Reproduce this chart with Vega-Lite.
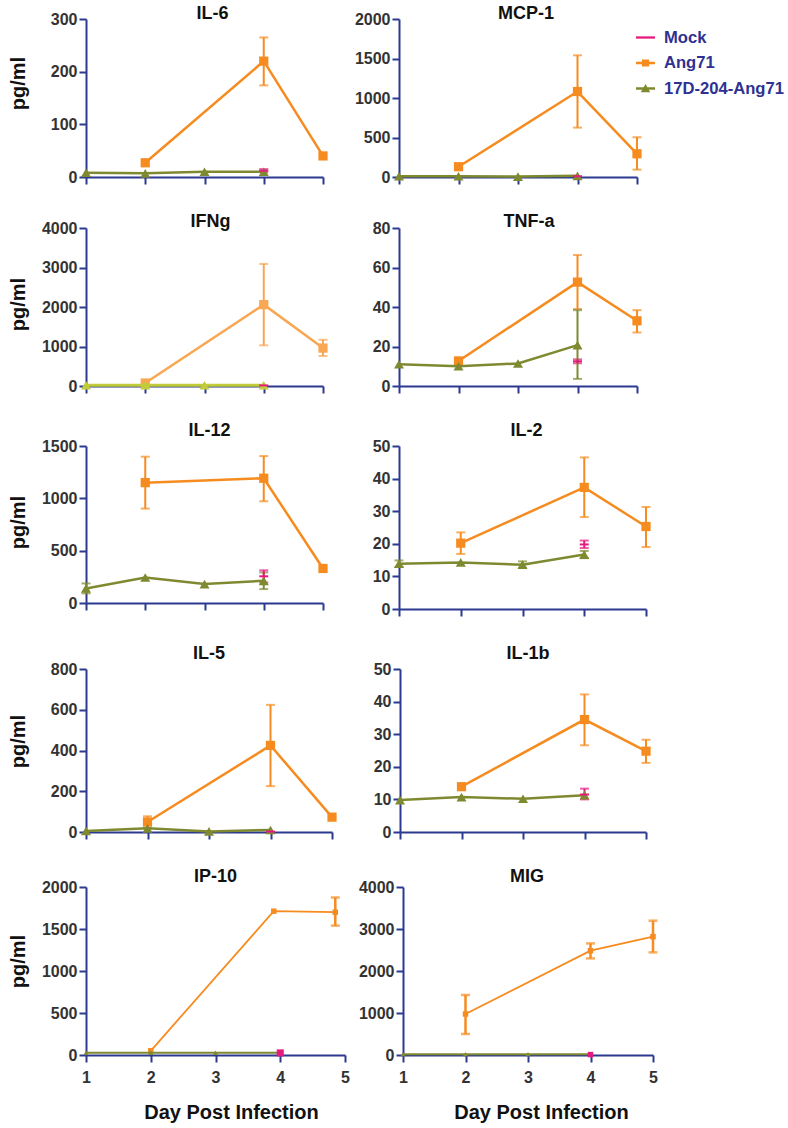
{
  "$schema": "https://vega.github.io/schema/vega-lite/v6.json",
  "padding": {"left": 8, "top": 5, "right": 2, "bottom": 2},
  "config": {
    "font": "Liberation Sans",
    "view": {"stroke": null},
    "axis": {"domainColor": "#2b3990", "domainWidth": 2, "tickColor": "#2b3990", "tickWidth": 2, "tickSize": 7, "grid": false, "labelFont": "Liberation Sans", "labelFontWeight": "bold", "labelFontSize": 16, "labelColor": "#333333", "labelFlush": false, "labelOverlap": false, "titleFont": "Liberation Sans", "titleFontWeight": "bold", "titleFontSize": 20, "titleColor": "#111111"},
    "axisX": {"labelPadding": 7, "titleBaseline": "alphabetic", "titleY": 63},
    "axisY": {"labelPadding": 2, "titleBaseline": "alphabetic", "titleX": -62, "titleAngle": -90},
    "title": {"font": "Liberation Sans", "fontSize": 18, "fontWeight": "bold", "color": "#111111", "frame": "group", "anchor": "middle", "baseline": "alphabetic"}
  },
  "datasets": {
    "IL-6": [
      {"series": "17D-204-Ang71", "day": 1, "value": 8},
      {"series": "17D-204-Ang71", "day": 2, "value": 7},
      {"series": "17D-204-Ang71", "day": 3, "value": 10},
      {"series": "17D-204-Ang71", "day": 4, "value": 10},
      {"series": "Ang71", "day": 2, "value": 27},
      {"series": "Ang71", "day": 4, "value": 220, "lo": 174, "hi": 265},
      {"series": "Ang71", "day": 5, "value": 40},
      {"series": "Mock", "day": 4, "value": 12, "lo": 9, "hi": 15}
    ],
    "MCP-1": [
      {"series": "17D-204-Ang71", "day": 1, "value": 10},
      {"series": "17D-204-Ang71", "day": 2, "value": 10},
      {"series": "17D-204-Ang71", "day": 3, "value": 5},
      {"series": "17D-204-Ang71", "day": 4, "value": 15},
      {"series": "Ang71", "day": 2, "value": 130, "lo": 95, "hi": 170},
      {"series": "Ang71", "day": 4, "value": 1082, "lo": 625, "hi": 1540},
      {"series": "Ang71", "day": 5, "value": 294, "lo": 93, "hi": 503},
      {"series": "Mock", "day": 4, "value": 10}
    ],
    "IFNg": [
      {"series": "17D-204-Ang71", "day": 1, "value": 20},
      {"series": "17D-204-Ang71", "day": 2, "value": 20},
      {"series": "17D-204-Ang71", "day": 3, "value": 20},
      {"series": "17D-204-Ang71", "day": 4, "value": 20},
      {"series": "Ang71", "day": 2, "value": 76},
      {"series": "Ang71", "day": 4, "value": 2060, "lo": 1030, "hi": 3090},
      {"series": "Ang71", "day": 5, "value": 960, "lo": 760, "hi": 1170},
      {"series": "Mock", "day": 4, "value": 15}
    ],
    "TNF-a": [
      {"series": "17D-204-Ang71", "day": 1, "value": 11},
      {"series": "17D-204-Ang71", "day": 2, "value": 10},
      {"series": "17D-204-Ang71", "day": 3, "value": 11.4},
      {"series": "17D-204-Ang71", "day": 4, "value": 20.7, "lo": 3.6, "hi": 38.4},
      {"series": "Ang71", "day": 2, "value": 12.7},
      {"series": "Ang71", "day": 4, "value": 52.6, "lo": 39, "hi": 66.3},
      {"series": "Ang71", "day": 5, "value": 33, "lo": 27.1, "hi": 38.4},
      {"series": "Mock", "day": 4, "value": 12.5, "lo": 11.5, "hi": 13.5}
    ],
    "IL-12": [
      {"series": "17D-204-Ang71", "day": 1, "value": 139, "lo": 92, "hi": 187},
      {"series": "17D-204-Ang71", "day": 2, "value": 244},
      {"series": "17D-204-Ang71", "day": 3, "value": 181},
      {"series": "17D-204-Ang71", "day": 4, "value": 212, "lo": 133, "hi": 292},
      {"series": "Ang71", "day": 2, "value": 1150, "lo": 902, "hi": 1398},
      {"series": "Ang71", "day": 4, "value": 1192, "lo": 972, "hi": 1404},
      {"series": "Ang71", "day": 5, "value": 330},
      {"series": "Mock", "day": 4, "value": 255, "lo": 196, "hi": 312}
    ],
    "IL-2": [
      {"series": "17D-204-Ang71", "day": 1, "value": 13.9, "lo": 12.9, "hi": 14.9},
      {"series": "17D-204-Ang71", "day": 2, "value": 14.3},
      {"series": "17D-204-Ang71", "day": 3, "value": 13.6, "lo": 12.6, "hi": 14.6},
      {"series": "17D-204-Ang71", "day": 4, "value": 16.7, "lo": 15.6, "hi": 17.8},
      {"series": "Ang71", "day": 2, "value": 20.2, "lo": 16.9, "hi": 23.5},
      {"series": "Ang71", "day": 4, "value": 37.3, "lo": 28.2, "hi": 46.5},
      {"series": "Ang71", "day": 5, "value": 25.3, "lo": 19, "hi": 31.3},
      {"series": "Mock", "day": 4, "value": 19.8, "lo": 18.7, "hi": 21}
    ],
    "IL-5": [
      {"series": "17D-204-Ang71", "day": 1, "value": 5},
      {"series": "17D-204-Ang71", "day": 2, "value": 18},
      {"series": "17D-204-Ang71", "day": 3, "value": 3},
      {"series": "17D-204-Ang71", "day": 4, "value": 10},
      {"series": "Ang71", "day": 2, "value": 49, "lo": 21, "hi": 77},
      {"series": "Ang71", "day": 4, "value": 425, "lo": 225, "hi": 624},
      {"series": "Ang71", "day": 5, "value": 73},
      {"series": "Mock", "day": 4, "value": 2}
    ],
    "IL-1b": [
      {"series": "17D-204-Ang71", "day": 1, "value": 9.8},
      {"series": "17D-204-Ang71", "day": 2, "value": 10.7},
      {"series": "17D-204-Ang71", "day": 3, "value": 10.2},
      {"series": "17D-204-Ang71", "day": 4, "value": 11.3},
      {"series": "Ang71", "day": 2, "value": 13.9},
      {"series": "Ang71", "day": 4, "value": 34.5, "lo": 26.6, "hi": 42.2},
      {"series": "Ang71", "day": 5, "value": 24.8, "lo": 21.2, "hi": 28.3},
      {"series": "Mock", "day": 4, "value": 11.5, "lo": 10, "hi": 13.3}
    ],
    "IP-10": [
      {"series": "17D-204-Ang71", "day": 1, "value": 27},
      {"series": "17D-204-Ang71", "day": 2, "value": 27},
      {"series": "17D-204-Ang71", "day": 3, "value": 27},
      {"series": "17D-204-Ang71", "day": 4, "value": 27},
      {"series": "Ang71", "day": 2, "value": 50},
      {"series": "Ang71", "day": 3.9, "value": 1712},
      {"series": "Ang71", "day": 4.85, "value": 1700, "lo": 1540, "hi": 1875},
      {"series": "Mock", "day": 4, "value": 25}
    ],
    "MIG": [
      {"series": "17D-204-Ang71", "day": 1, "value": 20},
      {"series": "17D-204-Ang71", "day": 2, "value": 20},
      {"series": "17D-204-Ang71", "day": 3, "value": 20},
      {"series": "17D-204-Ang71", "day": 4, "value": 20},
      {"series": "Ang71", "day": 2, "value": 976, "lo": 500, "hi": 1429},
      {"series": "Ang71", "day": 4, "value": 2483, "lo": 2300, "hi": 2657},
      {"series": "Ang71", "day": 5, "value": 2817, "lo": 2443, "hi": 3198},
      {"series": "Mock", "day": 4, "value": 10}
    ]
  },
  "spacing": 28,
  "vconcat": [
    {
      "bounds": "flush", "spacing": 76,
      "hconcat": [
        {
          "width": 237, "height": 158,
          "title": {"text": "IL-6", "offset": -12, "dx": 8},
          "data": {"name": "IL-6"},
          "encoding": {
            "x": {"field": "day", "type": "quantitative", "scale": {"domain": [1, 5], "nice": false, "zero": false}, "axis": {"values": [1, 2, 3, 4, 5], "labels": false, "title": null}},
            "y": {"field": "value", "type": "quantitative", "scale": {"domain": [0, 300], "nice": false}, "axis": {"values": [0, 100, 200, 300], "format": "d", "title": "pg/ml", "titleY": 64}},
            "color": {"field": "series", "type": "nominal", "scale": {"domain": ["Ang71", "17D-204-Ang71", "Mock"], "range": ["#f68b1f", "#7f8a30", "#e6197e"]}, "legend": null}
          },
          "layer": [
            {"mark": {"type": "errorbar", "ticks": true, "size": 9, "thickness": 2}, "encoding": {"y": {"field": "lo", "type": "quantitative", "scale": {"domain": [0, 300], "nice": false}, "axis": {"values": [0, 100, 200, 300], "format": "d", "title": "pg/ml", "titleY": 64}}, "y2": {"field": "hi"}}},
            {"transform": [{"filter": "datum.series == 'Ang71'"}], "mark": {"type": "line", "strokeWidth": 2.5, "point": {"shape": "square", "filled": true, "size": 85, "opacity": 1}}},
            {"transform": [{"filter": "datum.series == '17D-204-Ang71'"}], "mark": {"type": "line", "strokeWidth": 2.5, "point": {"shape": "triangle-up", "filled": true, "size": 100, "opacity": 1}}},
            {"transform": [{"filter": "datum.series == 'Mock'"}], "mark": {"type": "point", "shape": "M-1,-0.22H1V0.22H-1Z", "filled": true, "size": 81, "opacity": 1}}
          ]
        },
        {
          "width": 238, "height": 158,
          "title": {"text": "MCP-1", "offset": -12, "dx": 8},
          "data": {"name": "MCP-1"},
          "encoding": {
            "x": {"field": "day", "type": "quantitative", "scale": {"domain": [1, 5], "nice": false, "zero": false}, "axis": {"values": [1, 2, 3, 4, 5], "labels": false, "title": null}},
            "y": {"field": "value", "type": "quantitative", "scale": {"domain": [0, 2000], "nice": false}, "axis": {"values": [0, 500, 1000, 1500, 2000], "format": "d", "title": null}},
            "color": {"field": "series", "type": "nominal", "scale": {"domain": ["Ang71", "17D-204-Ang71", "Mock"], "range": ["#f68b1f", "#7f8a30", "#e6197e"]}, "legend": null}
          },
          "layer": [
            {"mark": {"type": "errorbar", "ticks": true, "size": 9, "thickness": 2}, "encoding": {"y": {"field": "lo", "type": "quantitative", "scale": {"domain": [0, 2000], "nice": false}, "axis": {"values": [0, 500, 1000, 1500, 2000], "format": "d", "title": null}}, "y2": {"field": "hi"}}},
            {"transform": [{"filter": "datum.series == 'Ang71'"}], "mark": {"type": "line", "strokeWidth": 2.5, "point": {"shape": "square", "filled": true, "size": 85, "opacity": 1}}},
            {"transform": [{"filter": "datum.series == '17D-204-Ang71'"}], "mark": {"type": "line", "strokeWidth": 2.5, "point": {"shape": "triangle-up", "filled": true, "size": 100, "opacity": 1}}},
            {"transform": [{"filter": "datum.series == 'Mock'"}], "mark": {"type": "point", "shape": "M-1,-0.22H1V0.22H-1Z", "filled": true, "size": 81, "opacity": 1}},
            {
              "data": {"values": [{"series": "Mock"}, {"series": "Ang71"}, {"series": "17D-204-Ang71"}]},
              "mark": {"type": "point", "filled": true, "opacity": 0},
              "encoding": {
                "x": {"value": 0},
                "y": {"value": 0},
                "color": {"value": "#f68b1f"},
                "fill": {"field": "series", "type": "nominal", "scale": {"domain": ["Mock", "Ang71", "17D-204-Ang71"], "range": ["#e6197e", "#f68b1f", "#7f8a30"]},
                  "legend": {"title": null, "orient": "none", "legendX": 550, "legendY": 9, "direction": "vertical", "labelFont": "Liberation Sans", "labelFontSize": 16.6, "labelFontWeight": "bold", "labelColor": "#2e3192", "symbolSize": 361, "symbolOpacity": 1, "symbolStrokeWidth": 0, "rowPadding": 6.5, "labelOffset": 9, "padding": 0}},
                "shape": {"field": "series", "type": "nominal", "scale": {"domain": ["Mock", "Ang71", "17D-204-Ang71"], "range": ["M-1,-0.12H1V0.12H-1Z", "M-1,-0.13H1V0.13H-1Z M-0.38,-0.38H0.38V0.38H-0.38Z", "M-1,-0.13H1V0.13H-1Z M0,-0.48L0.5,0.4H-0.5Z"]},
                  "legend": {"title": null, "orient": "none", "legendX": 550, "legendY": 9, "direction": "vertical", "labelFont": "Liberation Sans", "labelFontSize": 16.6, "labelFontWeight": "bold", "labelColor": "#2e3192", "symbolSize": 361, "symbolOpacity": 1, "symbolStrokeWidth": 0, "rowPadding": 6.5, "labelOffset": 9, "padding": 0}}
              }
            }
          ]
        }
      ]
    },
    {
      "bounds": "flush", "spacing": 76,
      "hconcat": [
        {
          "width": 237, "height": 158,
          "title": {"text": "IFNg", "offset": -11, "dx": 6},
          "data": {"name": "IFNg"},
          "encoding": {
            "x": {"field": "day", "type": "quantitative", "scale": {"domain": [1, 5], "nice": false, "zero": false}, "axis": {"values": [1, 2, 3, 4, 5], "labels": false, "title": null}},
            "y": {"field": "value", "type": "quantitative", "scale": {"domain": [0, 4000], "nice": false}, "axis": {"values": [0, 1000, 2000, 3000, 4000], "format": "d", "title": "pg/ml", "titleY": 76}}
          },
          "layer": [
            {"transform": [{"filter": "datum.series == 'Ang71'"}], "mark": {"type": "errorbar", "ticks": true, "size": 9, "thickness": 2, "color": "#f9a752"}, "encoding": {"y": {"field": "lo", "type": "quantitative", "scale": {"domain": [0, 4000], "nice": false}, "axis": {"values": [0, 1000, 2000, 3000, 4000], "format": "d", "title": "pg/ml", "titleY": 76}}, "y2": {"field": "hi"}}},
            {"transform": [{"filter": "datum.series == 'Ang71'"}], "mark": {"type": "line", "strokeWidth": 2.5, "color": "#f9a752", "point": {"shape": "square", "filled": true, "size": 85, "opacity": 1, "color": "#f9a752"}}},
            {"transform": [{"filter": "datum.series == '17D-204-Ang71'"}], "mark": {"type": "line", "strokeWidth": 3, "color": "#c2cc3a", "point": {"shape": "triangle-up", "filled": true, "size": 100, "opacity": 1, "color": "#c2cc3a"}}},
            {"transform": [{"filter": "datum.series == 'Mock'"}], "mark": {"type": "point", "shape": "M-1,-0.22H1V0.22H-1Z", "filled": true, "size": 81, "opacity": 1, "color": "#e6197e"}}
          ]
        },
        {
          "width": 238, "height": 158,
          "title": {"text": "TNF-a", "offset": -11, "dx": 11},
          "data": {"name": "TNF-a"},
          "encoding": {
            "x": {"field": "day", "type": "quantitative", "scale": {"domain": [1, 5], "nice": false, "zero": false}, "axis": {"values": [1, 2, 3, 4, 5], "labels": false, "title": null}},
            "y": {"field": "value", "type": "quantitative", "scale": {"domain": [0, 80], "nice": false}, "axis": {"values": [0, 20, 40, 60, 80], "format": "d", "title": null}},
            "color": {"field": "series", "type": "nominal", "scale": {"domain": ["Ang71", "17D-204-Ang71", "Mock"], "range": ["#f68b1f", "#7f8a30", "#e6197e"]}, "legend": null}
          },
          "layer": [
            {"mark": {"type": "errorbar", "ticks": true, "size": 9, "thickness": 2}, "encoding": {"y": {"field": "lo", "type": "quantitative", "scale": {"domain": [0, 80], "nice": false}, "axis": {"values": [0, 20, 40, 60, 80], "format": "d", "title": null}}, "y2": {"field": "hi"}}},
            {"transform": [{"filter": "datum.series == 'Ang71'"}], "mark": {"type": "line", "strokeWidth": 2.5, "point": {"shape": "square", "filled": true, "size": 85, "opacity": 1}}},
            {"transform": [{"filter": "datum.series == '17D-204-Ang71'"}], "mark": {"type": "line", "strokeWidth": 2.5, "point": {"shape": "triangle-up", "filled": true, "size": 100, "opacity": 1}}},
            {"transform": [{"filter": "datum.series == 'Mock'"}], "mark": {"type": "point", "shape": "M-1,-0.22H1V0.22H-1Z", "filled": true, "size": 81, "opacity": 1}}
          ]
        }
      ]
    },
    {
      "bounds": "flush", "spacing": 76,
      "hconcat": [
        {
          "width": 237, "height": 157,
          "title": {"text": "IL-12", "offset": -2, "dx": 5},
          "data": {"name": "IL-12"},
          "encoding": {
            "x": {"field": "day", "type": "quantitative", "scale": {"domain": [1, 5], "nice": false, "zero": false}, "axis": {"values": [1, 2, 3, 4, 5], "labels": false, "title": null}},
            "y": {"field": "value", "type": "quantitative", "scale": {"domain": [0, 1500], "nice": false}, "axis": {"values": [0, 500, 1000, 1500], "format": "d", "title": "pg/ml", "titleY": 76}},
            "color": {"field": "series", "type": "nominal", "scale": {"domain": ["Ang71", "17D-204-Ang71", "Mock"], "range": ["#f68b1f", "#7f8a30", "#e6197e"]}, "legend": null}
          },
          "layer": [
            {"mark": {"type": "errorbar", "ticks": true, "size": 9, "thickness": 2}, "encoding": {"y": {"field": "lo", "type": "quantitative", "scale": {"domain": [0, 1500], "nice": false}, "axis": {"values": [0, 500, 1000, 1500], "format": "d", "title": "pg/ml", "titleY": 76}}, "y2": {"field": "hi"}}},
            {"transform": [{"filter": "datum.series == 'Ang71'"}], "mark": {"type": "line", "strokeWidth": 2.5, "point": {"shape": "square", "filled": true, "size": 85, "opacity": 1}}},
            {"transform": [{"filter": "datum.series == '17D-204-Ang71'"}], "mark": {"type": "line", "strokeWidth": 2.5, "point": {"shape": "triangle-up", "filled": true, "size": 100, "opacity": 1}}},
            {"transform": [{"filter": "datum.series == 'Mock'"}], "mark": {"type": "point", "shape": "M-1,-0.22H1V0.22H-1Z", "filled": true, "size": 81, "opacity": 1}}
          ]
        },
        {
          "width": 247, "height": 163,
          "title": {"text": "IL-2", "offset": -2, "dx": 4},
          "data": {"name": "IL-2"},
          "encoding": {
            "x": {"field": "day", "type": "quantitative", "scale": {"domain": [1, 5], "nice": false, "zero": false}, "axis": {"values": [1, 2, 3, 4, 5], "labels": false, "title": null}},
            "y": {"field": "value", "type": "quantitative", "scale": {"domain": [0, 50], "nice": false}, "axis": {"values": [0, 10, 20, 30, 40, 50], "format": "d", "title": null}},
            "color": {"field": "series", "type": "nominal", "scale": {"domain": ["Ang71", "17D-204-Ang71", "Mock"], "range": ["#f68b1f", "#7f8a30", "#e6197e"]}, "legend": null}
          },
          "layer": [
            {"mark": {"type": "errorbar", "ticks": true, "size": 9, "thickness": 2}, "encoding": {"y": {"field": "lo", "type": "quantitative", "scale": {"domain": [0, 50], "nice": false}, "axis": {"values": [0, 10, 20, 30, 40, 50], "format": "d", "title": null}}, "y2": {"field": "hi"}}},
            {"transform": [{"filter": "datum.series == 'Ang71'"}], "mark": {"type": "line", "strokeWidth": 2.5, "point": {"shape": "square", "filled": true, "size": 85, "opacity": 1}}},
            {"transform": [{"filter": "datum.series == '17D-204-Ang71'"}], "mark": {"type": "line", "strokeWidth": 2.5, "point": {"shape": "triangle-up", "filled": true, "size": 100, "opacity": 1}}},
            {"transform": [{"filter": "datum.series == 'Mock'"}], "mark": {"type": "point", "shape": "M-1,-0.22H1V0.22H-1Z", "filled": true, "size": 81, "opacity": 1}}
          ]
        }
      ]
    },
    {
      "bounds": "flush", "spacing": 68,
      "hconcat": [
        {
          "width": 246, "height": 163,
          "title": {"text": "IL-5", "offset": -2, "dx": 0},
          "data": {"name": "IL-5"},
          "encoding": {
            "x": {"field": "day", "type": "quantitative", "scale": {"domain": [1, 5], "nice": false, "zero": false}, "axis": {"values": [1, 2, 3, 4, 5], "labels": false, "title": null}},
            "y": {"field": "value", "type": "quantitative", "scale": {"domain": [0, 800], "nice": false}, "axis": {"values": [0, 200, 400, 600, 800], "format": "d", "title": "pg/ml", "titleY": 72}},
            "color": {"field": "series", "type": "nominal", "scale": {"domain": ["Ang71", "17D-204-Ang71", "Mock"], "range": ["#f68b1f", "#7f8a30", "#e6197e"]}, "legend": null}
          },
          "layer": [
            {"mark": {"type": "errorbar", "ticks": true, "size": 9, "thickness": 2}, "encoding": {"y": {"field": "lo", "type": "quantitative", "scale": {"domain": [0, 800], "nice": false}, "axis": {"values": [0, 200, 400, 600, 800], "format": "d", "title": "pg/ml", "titleY": 72}}, "y2": {"field": "hi"}}},
            {"transform": [{"filter": "datum.series == 'Ang71'"}], "mark": {"type": "line", "strokeWidth": 2.5, "point": {"shape": "square", "filled": true, "size": 85, "opacity": 1}}},
            {"transform": [{"filter": "datum.series == '17D-204-Ang71'"}], "mark": {"type": "line", "strokeWidth": 2.5, "point": {"shape": "triangle-up", "filled": true, "size": 100, "opacity": 1}}},
            {"transform": [{"filter": "datum.series == 'Mock'"}], "mark": {"type": "point", "shape": "M-1,-0.22H1V0.22H-1Z", "filled": true, "size": 81, "opacity": 1}}
          ]
        },
        {
          "width": 246, "height": 163,
          "title": {"text": "IL-1b", "offset": -2, "dx": 5},
          "data": {"name": "IL-1b"},
          "encoding": {
            "x": {"field": "day", "type": "quantitative", "scale": {"domain": [1, 5], "nice": false, "zero": false}, "axis": {"values": [1, 2, 3, 4, 5], "labels": false, "title": null}},
            "y": {"field": "value", "type": "quantitative", "scale": {"domain": [0, 50], "nice": false}, "axis": {"values": [0, 10, 20, 30, 40, 50], "format": "d", "title": null}},
            "color": {"field": "series", "type": "nominal", "scale": {"domain": ["Ang71", "17D-204-Ang71", "Mock"], "range": ["#f68b1f", "#7f8a30", "#e6197e"]}, "legend": null}
          },
          "layer": [
            {"mark": {"type": "errorbar", "ticks": true, "size": 9, "thickness": 2}, "encoding": {"y": {"field": "lo", "type": "quantitative", "scale": {"domain": [0, 50], "nice": false}, "axis": {"values": [0, 10, 20, 30, 40, 50], "format": "d", "title": null}}, "y2": {"field": "hi"}}},
            {"transform": [{"filter": "datum.series == 'Ang71'"}], "mark": {"type": "line", "strokeWidth": 2.5, "point": {"shape": "square", "filled": true, "size": 85, "opacity": 1}}},
            {"transform": [{"filter": "datum.series == '17D-204-Ang71'"}], "mark": {"type": "line", "strokeWidth": 2.5, "point": {"shape": "triangle-up", "filled": true, "size": 100, "opacity": 1}}},
            {"transform": [{"filter": "datum.series == 'Mock'"}], "mark": {"type": "point", "shape": "M-1,-0.22H1V0.22H-1Z", "filled": true, "size": 81, "opacity": 1}}
          ]
        }
      ]
    },
    {
      "bounds": "flush", "spacing": 58,
      "hconcat": [
        {
          "width": 259, "height": 168,
          "title": {"text": "IP-10", "offset": -7, "dx": 0},
          "data": {"name": "IP-10"},
          "encoding": {
            "x": {"field": "day", "type": "quantitative", "scale": {"domain": [1, 5], "nice": false, "zero": false}, "axis": {"values": [1, 2, 3, 4, 5], "format": "d", "title": "Day Post Infection", "titleX": 145}},
            "y": {"field": "value", "type": "quantitative", "scale": {"domain": [0, 2000], "nice": false}, "axis": {"values": [0, 500, 1000, 1500, 2000], "format": "d", "title": "pg/ml", "titleY": 74}},
            "color": {"field": "series", "type": "nominal", "scale": {"domain": ["Ang71", "17D-204-Ang71", "Mock"], "range": ["#f68b1f", "#7f8a30", "#e6197e"]}, "legend": null}
          },
          "layer": [
            {"mark": {"type": "errorbar", "ticks": true, "size": 9, "thickness": 2.5}, "encoding": {"y": {"field": "lo", "type": "quantitative", "scale": {"domain": [0, 2000], "nice": false}, "axis": {"values": [0, 500, 1000, 1500, 2000], "format": "d", "title": "pg/ml", "titleY": 74}}, "y2": {"field": "hi"}}},
            {"transform": [{"filter": "datum.series == 'Ang71'"}], "mark": {"type": "line", "strokeWidth": 1.8, "point": {"shape": "square", "filled": true, "size": 30, "opacity": 1}}},
            {"transform": [{"filter": "datum.series == '17D-204-Ang71'"}], "mark": {"type": "line", "strokeWidth": 2, "point": {"shape": "triangle-up", "filled": true, "size": 25, "opacity": 1}}},
            {"transform": [{"filter": "datum.series == 'Mock'"}], "mark": {"type": "point", "shape": "square", "filled": true, "size": 50, "opacity": 1}}
          ]
        },
        {
          "width": 250, "height": 168,
          "title": {"text": "MIG", "offset": -7, "dx": -1},
          "data": {"name": "MIG"},
          "encoding": {
            "x": {"field": "day", "type": "quantitative", "scale": {"domain": [1, 5], "nice": false, "zero": false}, "axis": {"values": [1, 2, 3, 4, 5], "format": "d", "title": "Day Post Infection", "titleX": 138}},
            "y": {"field": "value", "type": "quantitative", "scale": {"domain": [0, 4000], "nice": false}, "axis": {"values": [0, 1000, 2000, 3000, 4000], "format": "d", "title": null}},
            "color": {"field": "series", "type": "nominal", "scale": {"domain": ["Ang71", "17D-204-Ang71", "Mock"], "range": ["#f68b1f", "#7f8a30", "#e6197e"]}, "legend": null}
          },
          "layer": [
            {"mark": {"type": "errorbar", "ticks": true, "size": 9, "thickness": 2.5}, "encoding": {"y": {"field": "lo", "type": "quantitative", "scale": {"domain": [0, 4000], "nice": false}, "axis": {"values": [0, 1000, 2000, 3000, 4000], "format": "d", "title": null}}, "y2": {"field": "hi"}}},
            {"transform": [{"filter": "datum.series == 'Ang71'"}], "mark": {"type": "line", "strokeWidth": 1.8, "point": {"shape": "square", "filled": true, "size": 30, "opacity": 1}}},
            {"transform": [{"filter": "datum.series == '17D-204-Ang71'"}], "mark": {"type": "line", "strokeWidth": 2, "point": {"shape": "triangle-up", "filled": true, "size": 25, "opacity": 1}}},
            {"transform": [{"filter": "datum.series == 'Mock'"}], "mark": {"type": "point", "shape": "square", "filled": true, "size": 30, "opacity": 1}}
          ]
        }
      ]
    }
  ]
}
